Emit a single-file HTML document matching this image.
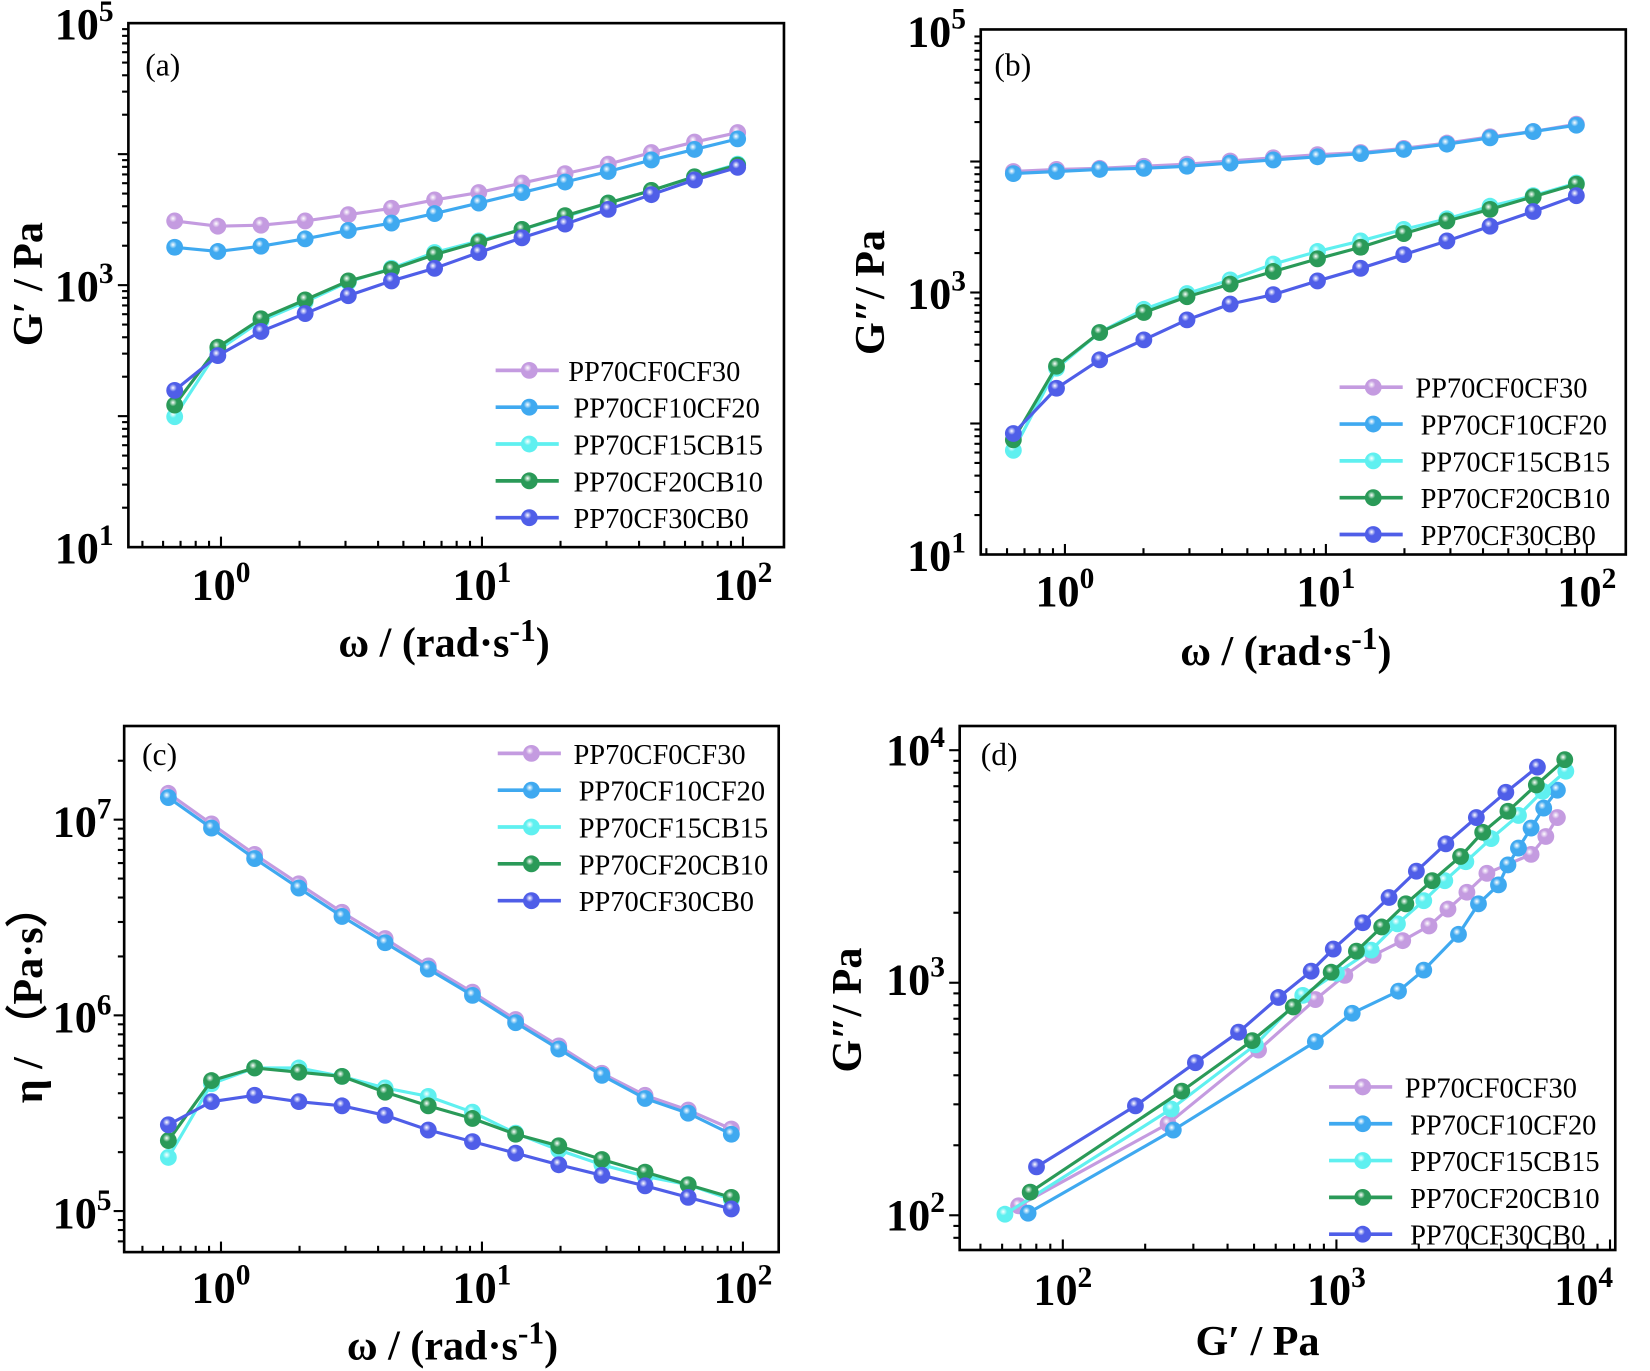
<!DOCTYPE html>
<html><head><meta charset="utf-8"><style>
html,body{margin:0;padding:0;background:#fff;}
svg{display:block;}
text{font-family:"Liberation Serif",serif;}
</style></head><body>
<svg id="s" width="1650" height="1371" viewBox="0 0 1568 1303" preserveAspectRatio="none" xmlns="http://www.w3.org/2000/svg">
<defs>
</defs>
</svg>
<script>
const S=document.getElementById('s');const NS='http://www.w3.org/2000/svg';
function el(t,a,txt){const e=document.createElementNS(NS,t);for(const k in a)e.setAttribute(k,a[k]);if(txt!==undefined)e.textContent=txt;S.appendChild(e);return e;}
const cols=['#c49be0','#3fa9f0','#5ff0f0','#2a9a58','#4f5ee8'];
const names=['PP70CF0CF30','PP70CF10CF20','PP70CF15CB15','PP70CF20CB10','PP70CF30CB0'];
const defs=S.querySelector('defs');
cols.forEach((c,i)=>{const g=document.createElementNS(NS,'radialGradient');g.setAttribute('id','g'+i);g.setAttribute('cx','0.4');g.setAttribute('cy','0.35');g.setAttribute('r','0.65');
g.innerHTML='<stop offset="0" stop-color="#fff"/><stop offset="0.35" stop-color="'+c+'"/><stop offset="1" stop-color="'+c+'"/>';defs.appendChild(g);});
function series(xs,ys,i){let p=xs.map((x,k)=>x+','+ys[k]).join(' ');el('polyline',{points:p,fill:'none',stroke:cols[i],'stroke-width':3});xs.forEach((x,k)=>el('circle',{cx:x,cy:ys[k],r:8,fill:'url(#g'+i+')'}));}
function legend(mx,ys,tx){ys.forEach((y,i)=>{el('line',{x1:mx-32,x2:mx+28,y1:y,y2:y,stroke:cols[i],'stroke-width':3.5});el('circle',{cx:mx,cy:y,r:8,fill:'url(#g'+i+')'});el('text',{x:tx+(i==0?-5:0),y:y+10,'font-size':27},names[i]);});}
function pow(x,y,e,anchor){const t=el('text',{x:x,y:y,'font-size':42,'font-weight':'bold','text-anchor':anchor||'middle'});t.innerHTML='10<tspan dy="-17" font-size="28">'+e+'</tspan>';}
function box(x1,y1,x2,y2){el('rect',{x:x1,y:y1,width:x2-x1,height:y2-y1,fill:'none',stroke:'#000','stroke-width':2.5});}
function xt(y,x0,dec,xmin,xmax){for(let d=-2;d<4;d++)for(let m=1;m<10;m++){const x=x0+dec*(d+Math.log10(m));if(x<=xmin+2||x>=xmax-2)continue;el('line',{x1:x,x2:x,y1:y,y2:y-(m==1?10:6),stroke:'#000','stroke-width':2});}}
function yt(x,y0,dec,ymin,ymax){for(let d=-2;d<8;d++)for(let m=1;m<10;m++){const y=y0-dec*(d+Math.log10(m));if(y<=ymin+2||y>=ymax-2)continue;el('line',{x1:x,x2:x-(m==1?10:6),y1:y,y2:y,stroke:'#000','stroke-width':2});}}
function ylabel(x,y,html){const t=el('text',{x:0,y:0,'font-size':40,'font-weight':'bold','text-anchor':'middle',transform:'translate('+x+','+y+') rotate(-90)'});t.innerHTML=html;}
function xlabel(x,y,html){const t=el('text',{x:x,y:y,'font-size':40,'font-weight':'bold','text-anchor':'middle'});t.innerHTML=html;}

// Panel a
const xa=[166,207,248,290,331,372,413,455,496,537,578,619,660,701];
box(122,22,745,520);xt(520,210,248,122,745);yt(122,520,124.5,22,520);
pow(80,37,5);pow(80,286,3);pow(80,535,1);
pow(210,570,0);pow(458,570,1);pow(706,570,2);
ylabel(40,270,'G′ / Pa');xlabel(422,624,'ω / (rad·s<tspan dy="-15" font-size="30">-1</tspan><tspan dy="15">)</tspan>');
el('text',{x:138,y:72,'font-size':30},'(a)');
const A=[[210,215,214,210,204,198,190,183,174,165,156,145,135,126],[235,239,234,227,219,212,203,193,183,173,163,152,142,132],[396,333,305,287,268,255,240,229,218,206,193,181,168,156],[385,330,303,285,267,256,242,230,218,205,193,181,168,157],[371,338,315,298,281,267,255,240,226,213,199,185,171,159]];
A.forEach((y,i)=>series(xa,y,i));legend(503,[352,387,422,457,492],545);

// Panel b
const xb=xa.map(x=>x+797);
box(932,28,1545,527);xt(527,1012,248,932,1545);yt(932,527,124.5,28,527);
pow(890,44,5);pow(890,293,3);pow(890,542,1);
pow(1012,576,0);pow(1260,576,1);pow(1508,576,2);
ylabel(840,278,'G″/ Pa');xlabel(1222,632,'ω / (rad·s<tspan dy="-15" font-size="30">-1</tspan><tspan dy="15">)</tspan>');
el('text',{x:945,y:72,'font-size':30},'(b)');
const B=[[163,161,160,158,156,153,150,147,145,141,136,130,125,118],[165,163,161,160,158,155,152,149,146,142,137,131,125,119],[428,350,316,294,279,266,251,239,229,218,208,196,186,174],[418,348,316,297,282,270,258,246,235,222,210,199,187,175],[412,369,342,323,304,289,280,267,255,242,229,215,201,186]];
B.forEach((y,i)=>series(xb,y,i));legend(1305,[368,403,438,473,508],1350);

// Panel c
const xc=xa.map(x=>x-6);
box(118,690,740,1190);xt(1190,210,248,118,740);yt(118,1151,186,690,1190);
pow(78,795,7);pow(78,981,6);pow(78,1167,5);
pow(210,1238,0);pow(458,1238,1);pow(706,1238,2);
ylabel(40,945,'η / （Pa·s）');xlabel(430,1292,'ω / (rad·s<tspan dy="-15" font-size="30">-1</tspan><tspan dy="15">)</tspan>');
el('text',{x:135,y:727,'font-size':30},'(c)');
const C=[[754,783,812,840,867,892,918,943,969,994,1020,1041,1055,1073],[758,787,816,844,871,896,921,946,972,997,1022,1044,1058,1078],[1100,1030,1015,1015,1023,1034,1042,1057,1077,1093,1107,1118,1126,1140],[1084,1027,1015,1019,1023,1038,1051,1063,1078,1089,1102,1114,1126,1138],[1069,1047,1041,1047,1051,1060,1074,1085,1096,1107,1117,1127,1138,1149]];
C.forEach((y,i)=>series(xc,y,i));legend(505,[716,751,786,821,856],550);

// Panel d
box(912,690,1535,1188);xt(1188,1010,260,912,1535);yt(912,1155,221,690,1188);
pow(870,727,4);pow(870,945,3);pow(870,1169,2);
pow(1010,1240,2);pow(1270,1240,3);pow(1505,1240,4);
ylabel(818,960,'G″/  Pa');xlabel(1195,1288,'G′ / Pa');
el('text',{x:932,y:727,'font-size':30},'(d)');
const D=[
[[968,1110,1196,1250,1278,1305,1333,1358,1376,1394,1413,1455,1469,1480],[1146,1068,998,950,927,908,894,880,864,848,830,812,795,777]],
[[977,1115,1250,1285,1329,1353,1386,1405,1424,1433,1443,1455,1467,1480],[1153,1074,990,963,942,922,888,859,841,822,806,787,768,751]],
[[955,1113,1193,1238,1270,1303,1328,1353,1373,1393,1417,1443,1466,1488],[1154,1054,993,946,925,903,878,856,837,819,797,775,752,733]],
[[979,1123,1190,1229,1265,1289,1313,1336,1361,1388,1409,1433,1460,1487],[1133,1037,989,957,924,904,881,859,837,814,791,771,746,722]],
[[985,1079,1136,1177,1215,1246,1267,1295,1320,1346,1374,1403,1431,1461],[1109,1051,1010,981,948,923,902,877,853,828,802,777,753,729]]];
D.forEach((d,i)=>series(d[0],d[1],i));legend(1295,[1033,1068,1103,1138,1173],1340);
</script>
</body></html>
